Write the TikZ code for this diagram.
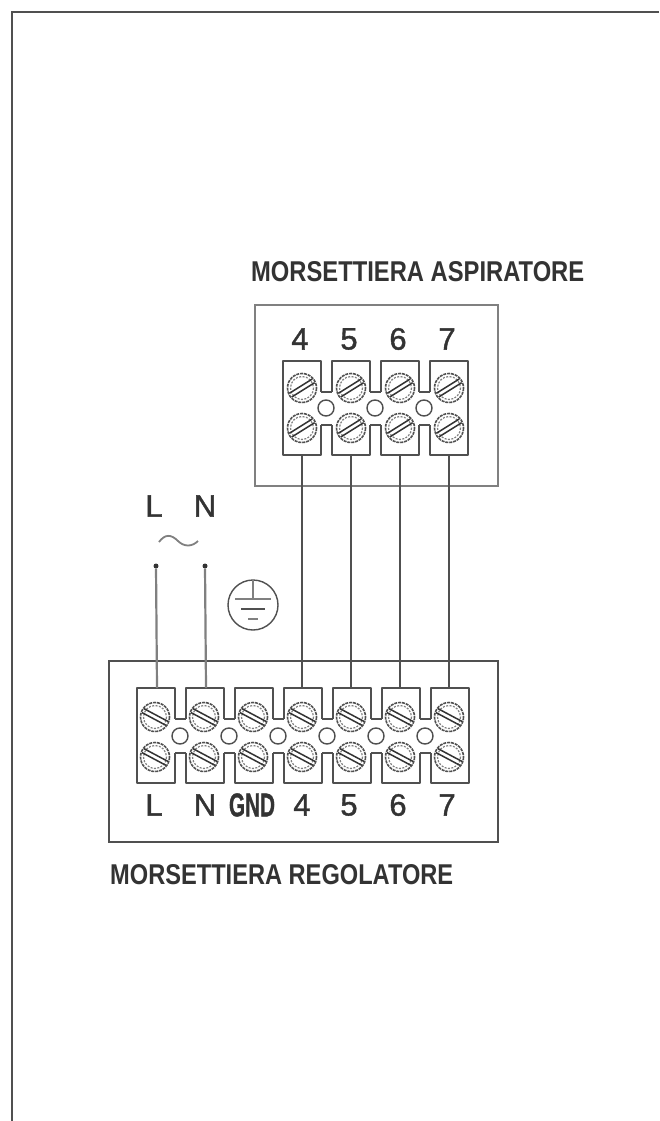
\documentclass[tikz,border=0pt]{standalone}
\usepackage{fontspec}
\setmainfont{Liberation Sans}
\newfontfamily\numfont[FakeBold=1.2]{Liberation Sans}
\newfontfamily\gndfont[FakeBold=2]{Liberation Sans Bold}
\definecolor{ink}{HTML}{333333}
\definecolor{midink}{HTML}{505050}
\definecolor{softink}{HTML}{808080}
\definecolor{paleink}{HTML}{A0A0A0}
\tikzset{
  frameline/.style={draw=midink,line width=1.5pt},
  boxupper/.style={draw=softink,line width=1.5pt},
  boxlower/.style={draw=midink,line width=1.7pt},
  stripline/.style={draw=midink,line width=1.7pt,line join=round},
  holeline/.style={draw=midink,line width=1.4pt},
  wiredark/.style={draw=midink,line width=1.7pt},
  wirepale/.style={draw=softink,line width=2.2pt},
  numlabel/.style={inner sep=0pt,text=ink,font=\fontsize{31}{31}\selectfont\numfont},
  titlelabel/.style={inner sep=0pt,anchor=west,text=ink,font=\fontsize{25}{25}\selectfont\bfseries},
  dotend/.style={circle,fill=ink,inner sep=0pt,minimum size=5pt},
  screw/.pic={
    \draw[draw=midink,line width=1.6pt,dash pattern=on 3pt off 0.9pt] (0,0) circle[radius=14.5];
    \draw[draw=softink,line width=1.2pt,dash pattern=on 2pt off 1.4pt] (0,0) circle[radius=11.5];
    \begin{scope}[rotate=\pgfkeysvalueof{/tikz/screwangle}]
      \draw[draw=ink,line width=1.5pt] (-13.5,2.2) -- (13.5,2.2);
      \draw[draw=ink,line width=1.5pt] (-13.5,-2.2) -- (13.5,-2.2);
    \end{scope}
  },
  screwangle/.initial=30,
}
% #1 left x, #2 top, #3 upper notch, #4 lower notch, #5 bottom, #6 last index
\newcommand{\stripoutline}[6]{
  \draw[stripline] (#1,#2) -- (#1,#5);
  \foreach \i in {0,...,#6}{
    \pgfmathsetmacro{\xa}{#1+49*\i}
    \pgfmathsetmacro{\xb}{\xa+38}
    \draw[stripline] (\xa,#3) -- (\xa,#2) -- (\xb,#2) -- (\xb,#3);
    \draw[stripline] (\xa,#4) -- (\xa,#5) -- (\xb,#5) -- (\xb,#4);
    \ifnum\i<#6
      \pgfmathsetmacro{\xc}{\xb+11}
      \draw[stripline] (\xb,#3) -- (\xc,#3);
      \draw[stripline] (\xb,#4) -- (\xc,#4);
    \fi
  }
  \draw[stripline] (#1+49*#6+38,#3) -- (#1+49*#6+38,#4);
}
\begin{document}
\begin{tikzpicture}[x=1pt,y=-1pt]
\useasboundingbox (0,0) rectangle (659,1121);
\fill[white] (0,0) rectangle (659,1121);
% page frame
\draw[frameline] (659,12) -- (12,12) -- (12,1121);

% titles
\node[titlelabel] (titleA) at (251,272) {\resizebox{333pt}{20pt}{MORSETTIERA ASPIRATORE}};
\node[titlelabel] (titleR) at (110,875) {\resizebox{343pt}{20pt}{MORSETTIERA REGOLATORE}};

% boxes
\node[boxupper,minimum width=243pt,minimum height=181pt,inner sep=0pt,anchor=north west] (boxA) at (254,304) {};
\node[boxlower,minimum width=389pt,minimum height=181pt,inner sep=0pt,anchor=north west] (boxR) at (108,660) {};

% upper terminal strip
\stripoutline{283}{361}{392}{425}{455}{3}
\foreach \i/\t in {0/4,1/5,2/6,3/7}{
  \pgfmathsetmacro{\cx}{302+49*\i}
  \node[numlabel] (lA\t) at (\cx-2,339) {\t};
  \pic[screwangle=32] at (\cx,388) {screw};
  \pic[screwangle=32] at (\cx,428) {screw};
  \coordinate (a\t) at (\cx,455);
}
\foreach \i in {0,1,2}{
  \draw[holeline] (326+49*\i,408) circle[radius=8];
}

% lower terminal strip
\stripoutline{137}{688}{719}{753}{783}{6}
\foreach \i in {0,...,6}{
  \pgfmathsetmacro{\cx}{155+49*\i}
  \pic[screwangle=-28] at (\cx,717) {screw};
  \pic[screwangle=-28] at (\cx,757) {screw};
}
\foreach \i in {0,...,5}{
  \draw[holeline] (180+49*\i,736) circle[radius=8];
}
\coordinate (rL) at (157,688);
\coordinate (rN) at (206,688);
\coordinate (r4) at (302,688);
\coordinate (r5) at (351,688);
\coordinate (r6) at (400,688);
\coordinate (r7) at (449,688);

\node[numlabel] (lrL) at (154,805) {L};
\node[numlabel] (lrN) at (205,805) {N};
\node[numlabel] (lrG) at (252,805) {\resizebox{46pt}{23pt}{\bfseries GND}};
\node[numlabel] (lr4) at (302,805) {4};
\node[numlabel] (lr5) at (349,805) {5};
\node[numlabel] (lr6) at (398,805) {6};
\node[numlabel] (lr7) at (447,805) {7};

% wires between strips
\draw[wiredark] (a4) -- (r4);
\draw[wiredark] (a5) -- (r5);
\draw[wiredark] (a6) -- (r6);
\draw[wiredark] (a7) -- (r7);

% mains
\node[numlabel] (mL) at (154,506) {L};
\node[numlabel] (mN) at (205,506) {N};
\node[dotend] (dL) at (156,566) {};
\node[dotend] (dN) at (205,566) {};
\draw[wirepale] (dL) -- (rL);
\draw[wirepale] (dN) -- (rN);
\draw[draw=softink,line width=1.8pt] (159,542) .. controls (165,534) and (171,534) .. (178,541) .. controls (184,547) and (192,547) .. (198,541);

% earth symbol
\draw[draw=midink,line width=1.4pt] (253,605) circle[radius=25];
\draw[draw=softink,line width=1.4pt] (253,580) -- (253,599);
\draw[draw=softink,line width=2pt] (235,599) -- (271,599);
\draw[draw=midink,line width=1.5pt] (241,609) -- (265,609);
\draw[draw=softink,line width=2pt] (248,619) -- (258,619);
\end{tikzpicture}
\end{document}
